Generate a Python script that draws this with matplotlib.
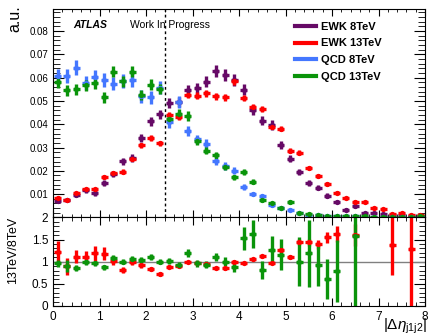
import numpy as np
import matplotlib.pyplot as plt
from matplotlib.lines import Line2D
from matplotlib.ticker import MultipleLocator

plt.rcParams['font.family'] = ['Liberation Sans', 'DejaVu Sans']
plt.rcParams['mathtext.fontset'] = 'custom'
plt.rcParams['mathtext.rm'] = 'Liberation Sans'
plt.rcParams['mathtext.it'] = 'Liberation Sans:italic'

# |delta eta_j1j2| binning: 40 bins of 0.2 from 0 to 8
edges = np.linspace(0, 8, 41)
centers = 0.5 * (edges[1:] + edges[:-1])

ewk8 = [0.0071, 0.0075, 0.0098, 0.0116, 0.0104, 0.0147, 0.0187, 0.0241, 0.0256, 0.0340,
        0.0413, 0.0443, 0.0490, 0.0495, 0.0545, 0.0555, 0.0583, 0.0627, 0.0612, 0.0590,
        0.0548, 0.0460, 0.0415, 0.0397, 0.0310, 0.0252, 0.0195, 0.0148, 0.0127, 0.0094,
        0.0068, 0.0033, 0.0047, 0.0019, 0.0019, 0.0016, 0.0009, 0.0010, 0.0006, 0.0005]
ewk13 = [0.0085, 0.0075, 0.0104, 0.0121, 0.0121, 0.0173, 0.0189, 0.0197, 0.0251, 0.0310,
         0.0340, 0.0318, 0.0438, 0.0432, 0.0527, 0.0523, 0.0533, 0.0520, 0.0516, 0.0584,
         0.0512, 0.0475, 0.0465, 0.0390, 0.0381, 0.0287, 0.0278, 0.0212, 0.0178, 0.0144,
         0.0106, 0.0083, 0.0068, 0.0066, 0.0040, 0.0037, 0.0013, 0.0020, 0.0011, 0.0010]
qcd8 = [0.0608, 0.0608, 0.0642, 0.0577, 0.0601, 0.0590, 0.0575, 0.0585, 0.0590, 0.0520,
        0.0516, 0.0557, 0.0410, 0.0495, 0.0370, 0.0335, 0.0316, 0.0241, 0.0220, 0.0200,
        0.0130, 0.0100, 0.0092, 0.0054, 0.0041, 0.0033, 0.0017, 0.0012, 0.0011, 0.0008,
        0.0008, 0.0005, 0.0004, 0.0003, 0.0003, 0.0002, 0.0002, 0.0001, 0.0001, 0.0001]
qcd13 = [0.0580, 0.0545, 0.0550, 0.0568, 0.0576, 0.0516, 0.0626, 0.0584, 0.0626, 0.0526,
         0.0570, 0.0552, 0.0423, 0.0443, 0.0436, 0.0330, 0.0287, 0.0267, 0.0216, 0.0172,
         0.0194, 0.0154, 0.0074, 0.0061, 0.0041, 0.0067, 0.0018, 0.0014, 0.0010, 0.0005,
         0.0006, 0.0008, 0.0006, 0.0004, 0.0003, 0.0003, 0.0002, 0.0002, 0.0002, 0.0008]

ewk8_err = [0.0008, 0.0008, 0.0009, 0.0010, 0.0010, 0.0012, 0.0013, 0.0015, 0.0016, 0.0018,
            0.0020, 0.0020, 0.0022, 0.0022, 0.0024, 0.0024, 0.0025, 0.0026, 0.0025, 0.0024,
            0.0023, 0.0022, 0.0020, 0.0020, 0.0018, 0.0016, 0.0014, 0.0012, 0.0011, 0.0010,
            0.0008, 0.0006, 0.0007, 0.0005, 0.0005, 0.0004, 0.0003, 0.0003, 0.0003, 0.0002]
ewk13_err = [0.0006, 0.0006, 0.0007, 0.0007, 0.0007, 0.0008, 0.0009, 0.0009, 0.0010, 0.0011,
             0.0012, 0.0012, 0.0013, 0.0013, 0.0014, 0.0014, 0.0014, 0.0014, 0.0014, 0.0014,
             0.0014, 0.0013, 0.0013, 0.0012, 0.0012, 0.0011, 0.0011, 0.0010, 0.0009, 0.0008,
             0.0007, 0.0006, 0.0006, 0.0006, 0.0005, 0.0005, 0.0003, 0.0004, 0.0003, 0.0003]
qcd8_err = [0.0030, 0.0030, 0.0032, 0.0030, 0.0030, 0.0030, 0.0030, 0.0029, 0.0029, 0.0028,
            0.0028, 0.0028, 0.0025, 0.0026, 0.0022, 0.0021, 0.0020, 0.0017, 0.0016, 0.0015,
            0.0012, 0.0010, 0.0010, 0.0008, 0.0007, 0.0006, 0.0004, 0.0004, 0.0003, 0.0003,
            0.0003, 0.0002, 0.0002, 0.0002, 0.0002, 0.0001, 0.0001, 0.0001, 0.0001, 0.0001]
qcd13_err = [0.0025, 0.0025, 0.0025, 0.0024, 0.0024, 0.0023, 0.0025, 0.0024, 0.0025, 0.0023,
             0.0024, 0.0023, 0.0020, 0.0021, 0.0020, 0.0017, 0.0016, 0.0015, 0.0013, 0.0012,
             0.0013, 0.0011, 0.0008, 0.0007, 0.0006, 0.0008, 0.0004, 0.0003, 0.0003, 0.0002,
             0.0003, 0.0003, 0.0003, 0.0002, 0.0002, 0.0002, 0.0001, 0.0001, 0.0001, 0.0003]

nan = np.nan
ewk_ratio = [1.22, 0.90, 1.11, 1.11, 1.19, 1.18, 1.02, 0.81, 1.00, 0.92,
             0.83, 0.72, 0.89, 0.91, 0.99, 0.97, 0.94, 0.86, 0.85, 1.00,
             0.97, 1.05, 1.12, 0.98, 1.26, 1.11, 1.44, 1.44, 1.39, 1.55,
             1.62, nan, 1.60, nan, nan, nan, 1.37, nan, 1.28, nan]
ewk_ratio_err = [0.25, 0.19, 0.15, 0.14, 0.17, 0.15, 0.10, 0.07, 0.08, 0.06,
                 0.05, 0.04, 0.04, 0.04, 0.03, 0.03, 0.03, 0.03, 0.03, 0.03,
                 0.03, 0.03, 0.04, 0.04, 0.05, 0.05, 0.07, 0.08, 0.10, 0.12,
                 0.18, nan, 0.25, nan, nan, nan, 0.67, nan, 1.30, nan]
qcd_ratio = [0.96, 0.90, 0.86, 0.99, 0.96, 0.87, 1.09, 1.00, 1.07, 1.04,
             1.11, 1.00, 1.02, 0.92, 1.19, 0.96, 0.93, 1.11, 1.00, 0.88,
             1.53, 1.63, 0.82, 1.26, 1.16, nan, 1.00, 1.19, 0.93, 0.60,
             0.80, nan, 1.59, nan, nan, nan, nan, nan, nan, nan]
qcd_ratio_err = [0.08, 0.14, 0.06, 0.06, 0.06, 0.05, 0.06, 0.06, 0.06, 0.06,
                 0.07, 0.06, 0.07, 0.07, 0.09, 0.07, 0.08, 0.09, 0.10, 0.12,
                 0.26, 0.32, 0.20, 0.32, 0.35, nan, 0.55, 0.75, 0.47, 0.45,
                 0.70, nan, 1.60, nan, nan, nan, nan, nan, nan, nan]

labels = ["EWK 8TeV", "EWK 13TeV", "QCD 8TeV", "QCD 13TeV"]
colors = ["#660a66", "#ff0000", "#4477ff", "#0a940a"]

fig = plt.figure(figsize=(4.28, 3.36), dpi=100)
ax = fig.add_axes([53 / 428, 1 - 217.4 / 336, 372 / 428, 208.4 / 336])
rax = fig.add_axes([53 / 428, 1 - 306 / 336, 372 / 428, 88.6 / 336])

series = [(ewk8, ewk8_err), (ewk13, ewk13_err), (qcd8, qcd8_err), (qcd13, qcd13_err)]
for (vals, errs), c in zip(series, colors):
    ax.errorbar(centers, vals, yerr=errs, xerr=0.075, fmt='o', ms=3.8, mew=0,
                color=c, elinewidth=2.4, capsize=0)

ax.axvline(2.4, color='k', ls=(0, (2, 2)), lw=1)
ax.set_xlim(0, 8)
ax.set_ylim(0, 0.0895)
ax.set_yticks([0.01, 0.02, 0.03, 0.04, 0.05, 0.06, 0.07, 0.08],
              ['0.01', '0.02', '0.03', '0.04', '0.05', '0.06', '0.07', '0.08'])
ax.yaxis.set_minor_locator(MultipleLocator(0.002))
ax.xaxis.set_major_locator(MultipleLocator(1))
ax.xaxis.set_minor_locator(MultipleLocator(0.2))
ax.tick_params(which='both', direction='in', top=True, right=True, labelbottom=False,
               labelsize=7)
ax.tick_params(axis='y', which='major', length=8)
ax.tick_params(axis='y', which='minor', length=5)
ax.tick_params(axis='x', which='major', length=5)
ax.tick_params(axis='x', which='minor', length=2.5)

handles = [Line2D([], [], color=c, lw=3) for c in colors]
ax.legend(handles, labels, loc='upper left', bbox_to_anchor=(0.65, 0.94), frameon=False,
          borderpad=0, borderaxespad=0, handlelength=1.9, handletextpad=0.5,
          labelspacing=0.62, prop={'weight': 'bold', 'size': 8})

ax.text(0.054, 0.923, "ATLAS", transform=ax.transAxes, fontsize=7.5,
        fontweight='bold', fontstyle='italic', va='center')
ax.text(0.207, 0.923, "Work In Progress", transform=ax.transAxes, fontsize=7.5,
        va='center')
fig.text(15 / 428, 1 - 5 / 336, "a.u.", rotation=90, ha='center', va='top', fontsize=11.5)

rax.axhline(1, color='gray', lw=1)
rax.errorbar(centers, ewk_ratio, yerr=ewk_ratio_err, xerr=0.075, fmt='o', ms=3.8, mew=0,
             color=colors[1], elinewidth=2.4, capsize=0)
rax.errorbar(centers, qcd_ratio, yerr=qcd_ratio_err, xerr=0.075, fmt='o', ms=3.8, mew=0,
             color=colors[3], elinewidth=2.4, capsize=0)
rax.set_xlim(0, 8)
rax.set_ylim(0, 2)
rax.set_yticks([0, 0.5, 1, 1.5, 2], ['0', '0.5', '1', '1.5', '2'])
rax.set_xticks(range(9), [str(i) for i in range(9)])
rax.yaxis.set_minor_locator(MultipleLocator(0.1))
rax.xaxis.set_minor_locator(MultipleLocator(0.2))
rax.tick_params(which='both', direction='in', top=True, right=True, labelsize=8.5)
rax.tick_params(axis='y', which='major', length=8)
rax.tick_params(axis='y', which='minor', length=4)
rax.tick_params(axis='x', which='major', length=6)
rax.tick_params(axis='x', which='minor', length=3)

fig.text(13 / 428, 1 - 217 / 336, "13TeV/8TeV", rotation=90, ha='center', va='top',
         fontsize=9)
fig.text(427 / 428, 1 - 317 / 336, r"$|\Delta\eta_{\mathrm{j1j2}}|$", ha='right',
         va='top', fontsize=11)

fig.savefig("out.png", dpi=100)
